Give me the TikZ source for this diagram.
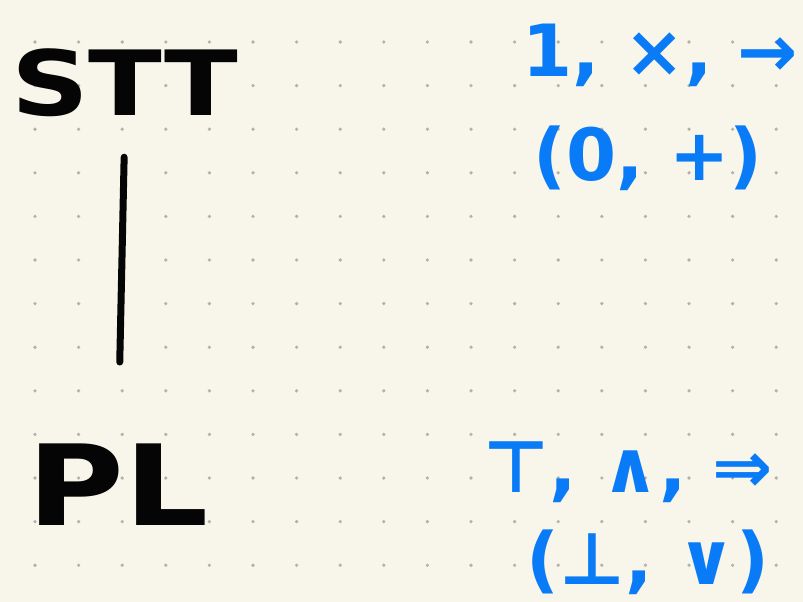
\documentclass[tikz,border=0pt]{standalone}
\usepackage{fontspec}
\setmainfont{DejaVu Sans}
\usetikzlibrary{positioning}
\definecolor{paperx}{HTML}{F8F6EB}
\definecolor{dotx}{HTML}{B3B1A8}
\definecolor{inkx}{HTML}{050505}
\definecolor{bluex}{HTML}{0A7BF7}
\tikzset{
  big/.style={inkx,inner sep=0pt},
  ops/.style={bluex,font=\fontsize{72}{76}\selectfont\bfseries,inner sep=0pt},
  ln/.style={inkx,line width=7pt,line cap=round}
}

\begin{document}
\begin{tikzpicture}[x=1pt,y=-1pt]
\fill[paperx] (0,0) rectangle (803,602);
\useasboundingbox (0,0) rectangle (803,602);
\foreach \i in {0,...,17}{\foreach \j in {0,...,12}{\fill[dotx] (35+43.6*\i,42+43.6*\j) circle (1.8pt);}}
\node[big,font=\fontsize{90}{90}\selectfont\bfseries] (stt) at (125,83) {\scalebox{1.2}[1]{STT}};
\node[big,font=\fontsize{112}{112}\selectfont\bfseries] (pl) at (118,485) {\scalebox{1.18}[1]{PL}};
\draw[ln,shorten <=40pt,shorten >=82pt] (stt.south) -- (pl.north);
\node[ops] (unit) at (660,55) {1, ×, →};
\node[ops] (zero) at (648,158) {(0, +)};
\node[ops] (top) at (628,472) {⊤, ∧, ⇒};
\node[ops] (bot) at (648,562) {(⊥, ∨)};
\end{tikzpicture}
\end{document}
